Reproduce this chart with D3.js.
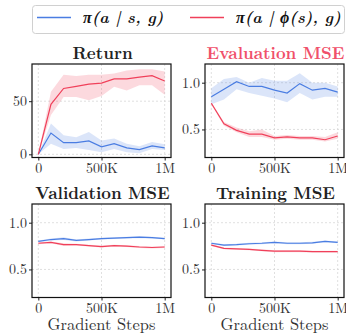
<!DOCTYPE html>
<html>
<head>
<meta charset="utf-8">
<script src="https://cdn.jsdelivr.net/npm/d3@7"></script>
<style>
  body { margin: 0; background: #fff; }
</style>
</head>
<body>
<svg id="chart"></svg>
<script>
const svgWidth = 346;
const svgHeight = 333;
const serif = "'Latin Modern Roman', 'Liberation Serif', serif";

const steps = [0, 100000, 200000, 300000, 400000, 500000, 600000, 700000, 800000, 900000, 1000000];
const xTicks = [0, 500000, 1000000];
const xTickLabels = ["0", "500K", "1M"];
const seriesNames = ["\u03c0(a | s, g)", "\u03c0(a | \u03d5(s), g)"];
const titles = ["Return", "Evaluation MSE", "Validation MSE", "Training MSE"];

// Return
const returnBlue = [0, 20, 11, 11, 12.6, 7, 10, 6, 4.4, 8, 6];
const returnBlueHi = [0, 29, 18, 16, 21, 13, 15, 10, 7.5, 11.6, 9.4];
const returnBlueLo = [0, 10, 5, 6, 4, 2, 5, 2, 1, 5, 4];
const returnRed = [0, 47, 62, 64, 66, 67, 71, 71, 72.6, 74, 69];
const returnRedHi = [0, 59, 75, 73.6, 75, 75, 76, 79, 80, 80, 78];
const returnRedLo = [0, 37, 54, 54, 51, 55, 63.5, 60, 65, 65, 56];

// Evaluation MSE
const evalBlue = [0.85, 0.93, 1.01, 0.96, 0.96, 0.92, 0.89, 0.99, 0.92, 0.94, 0.90];
const evalBlueHi = [0.94, 1.04, 1.06, 1.0, 1.05, 1.02, 1.02, 1.1, 1.0, 1.0, 0.96];
const evalBlueLo = [0.77, 0.82, 0.93, 0.89, 0.86, 0.83, 0.79, 0.89, 0.82, 0.85, 0.85];
const evalRed = [0.78, 0.56, 0.49, 0.45, 0.45, 0.41, 0.42, 0.41, 0.41, 0.39, 0.43];
const evalRedHi = [0.79, 0.58, 0.52, 0.48, 0.50, 0.43, 0.44, 0.43, 0.43, 0.42, 0.47];
const evalRedLo = [0.77, 0.54, 0.47, 0.42, 0.42, 0.39, 0.40, 0.39, 0.39, 0.37, 0.40];

// Validation MSE
const valBlue = [0.80, 0.82, 0.83, 0.81, 0.82, 0.83, 0.835, 0.84, 0.845, 0.84, 0.83];
const valBlueHi = [0.81, 0.83, 0.845, 0.82, 0.83, 0.84, 0.845, 0.85, 0.855, 0.85, 0.84];
const valBlueLo = [0.79, 0.81, 0.815, 0.80, 0.81, 0.82, 0.825, 0.83, 0.835, 0.83, 0.82];
const valRed = [0.78, 0.79, 0.765, 0.765, 0.755, 0.745, 0.755, 0.75, 0.74, 0.735, 0.74];
const valRedHi = [0.79, 0.80, 0.78, 0.775, 0.765, 0.755, 0.765, 0.76, 0.75, 0.745, 0.75];
const valRedLo = [0.77, 0.78, 0.75, 0.755, 0.745, 0.735, 0.745, 0.74, 0.73, 0.725, 0.73];

// Training MSE
const trainBlue = [0.78, 0.76, 0.765, 0.775, 0.78, 0.79, 0.78, 0.78, 0.785, 0.80, 0.79];
const trainBlueHi = [0.79, 0.77, 0.775, 0.785, 0.79, 0.80, 0.79, 0.79, 0.795, 0.81, 0.80];
const trainBlueLo = [0.77, 0.75, 0.755, 0.765, 0.77, 0.78, 0.77, 0.77, 0.775, 0.79, 0.78];
const trainRed = [0.76, 0.725, 0.72, 0.715, 0.705, 0.695, 0.695, 0.695, 0.69, 0.69, 0.69];
const trainRedHi = [0.77, 0.735, 0.73, 0.725, 0.715, 0.705, 0.705, 0.705, 0.70, 0.70, 0.70];
const trainRedLo = [0.75, 0.715, 0.71, 0.705, 0.695, 0.685, 0.685, 0.685, 0.68, 0.68, 0.68];

const returnTicks = [0, 50];
const mseTicks = [0.5, 1.0];

const blue = "#4a7de2";
const red = "#f0405a";
const colors = [blue, red];

const panels = [
  { title: titles[0], x: 32, y: 64, yDomain: [-3, 85], yTicks: returnTicks, fmt: d3.format("d"),
    series: [[returnBlue, returnBlueLo, returnBlueHi], [returnRed, returnRedLo, returnRedHi]], titleColor: "#222", xlabel: false },
  { title: titles[1], x: 205, y: 64, yDomain: [0.2, 1.2], yTicks: mseTicks, fmt: d3.format(".1f"),
    series: [[evalBlue, evalBlueLo, evalBlueHi], [evalRed, evalRedLo, evalRedHi]], titleColor: "#f0506a", xlabel: false },
  { title: titles[2], x: 32, y: 204, yDomain: [0.2, 1.2], yTicks: mseTicks, fmt: d3.format(".1f"),
    series: [[valBlue, valBlueLo, valBlueHi], [valRed, valRedLo, valRedHi]], titleColor: "#222", xlabel: true },
  { title: titles[3], x: 205, y: 204, yDomain: [0.2, 1.2], yTicks: mseTicks, fmt: d3.format(".1f"),
    series: [[trainBlue, trainBlueLo, trainBlueHi], [trainRed, trainRedLo, trainRedHi]], titleColor: "#222", xlabel: true }
];

const plotW = 139;
const plotH = 93.5;

const svg = d3.select("#chart")
  .attr("width", svgWidth)
  .attr("height", svgHeight);

const xScale = d3.scaleLinear().domain([-50000, 1050000]).range([0, plotW]);

panels.forEach(p => {
  const g = svg.append("g").attr("transform", `translate(${p.x},${p.y})`);
  const yScale = d3.scaleLinear().domain(p.yDomain).range([plotH, 0]);

  // grid
  g.selectAll(".vgrid").data(xTicks).enter().append("line")
    .attr("x1", d => xScale(d)).attr("x2", d => xScale(d))
    .attr("y1", 0).attr("y2", plotH)
    .attr("stroke", "#d8d8d8").attr("stroke-width", 0.8).attr("stroke-dasharray", "2,2");
  g.selectAll(".hgrid").data(p.yTicks).enter().append("line")
    .attr("x1", 0).attr("x2", plotW)
    .attr("y1", d => yScale(d)).attr("y2", d => yScale(d))
    .attr("stroke", "#d8d8d8").attr("stroke-width", 0.8).attr("stroke-dasharray", "2,2");

  p.series.forEach((s, i) => {
    const area = d3.area()
      .x((d, j) => xScale(steps[j]))
      .y0((d, j) => yScale(s[1][j]))
      .y1((d, j) => yScale(s[2][j]));
    g.append("path").datum(s[0]).attr("d", area)
      .attr("fill", colors[i]).attr("fill-opacity", 0.2);
    const line = d3.line()
      .x((d, j) => xScale(steps[j]))
      .y(d => yScale(d));
    g.append("path").datum(s[0]).attr("d", line)
      .attr("fill", "none").attr("stroke", colors[i]).attr("stroke-width", 1.2);
  });

  // axes
  const xAxis = d3.axisBottom(xScale).tickValues(xTicks)
    .tickFormat((d, i) => xTickLabels[i]).tickSize(3).tickSizeOuter(0);
  const yAxis = d3.axisLeft(yScale).tickValues(p.yTicks)
    .tickFormat(p.fmt).tickSize(3).tickSizeOuter(0);
  const xa = g.append("g").attr("transform", `translate(0,${plotH})`).call(xAxis);
  const ya = g.append("g").call(yAxis);
  [xa, ya].forEach(a => {
    a.attr("font-family", serif).attr("font-size", 14);
    a.select(".domain").remove();
    a.selectAll("line").attr("stroke", "#222");
    a.selectAll("text").attr("fill", "#333");
  });
  xa.selectAll("text").attr("dy", "0.65em");
  ya.selectAll("text").attr("x", -5);

  g.append("rect").attr("x", 0).attr("y", 0).attr("width", plotW).attr("height", plotH)
    .attr("fill", "none").attr("stroke", "#111").attr("stroke-width", 1.2);

  g.append("text").attr("x", plotW / 2 + 1).attr("y", -5)
    .attr("text-anchor", "middle").attr("fill", p.titleColor)
    .attr("font-family", serif).attr("font-size", 16.8).attr("font-weight", "bold")
    .text(p.title);

  if (p.xlabel) {
    g.append("text").attr("x", xScale(500000)).attr("y", plotH + 32)
      .attr("text-anchor", "middle").attr("fill", "#333")
      .attr("font-family", serif).attr("font-size", 16.5).text("Gradient Steps");
  }
});

// legend
const leg = svg.append("g");
leg.append("rect").attr("x", 32.5).attr("y", 5.5).attr("width", 312).attr("height", 28)
  .attr("rx", 3).attr("fill", "#fff").attr("stroke", "#d0d0d0");
const legX = [37, 190];
seriesNames.forEach((n, i) => {
  leg.append("line").attr("x1", legX[i]).attr("x2", legX[i] + 34)
    .attr("y1", 17.5).attr("y2", 17.5).attr("stroke", colors[i]).attr("stroke-width", 1.5);
  leg.append("text").attr("x", legX[i] + 46).attr("y", 23)
    .attr("font-family", serif).attr("font-size", 16).attr("font-weight", "bold").attr("font-style", "italic")
    .attr("fill", "#111").text(n);
});
</script>
</body>
</html>
